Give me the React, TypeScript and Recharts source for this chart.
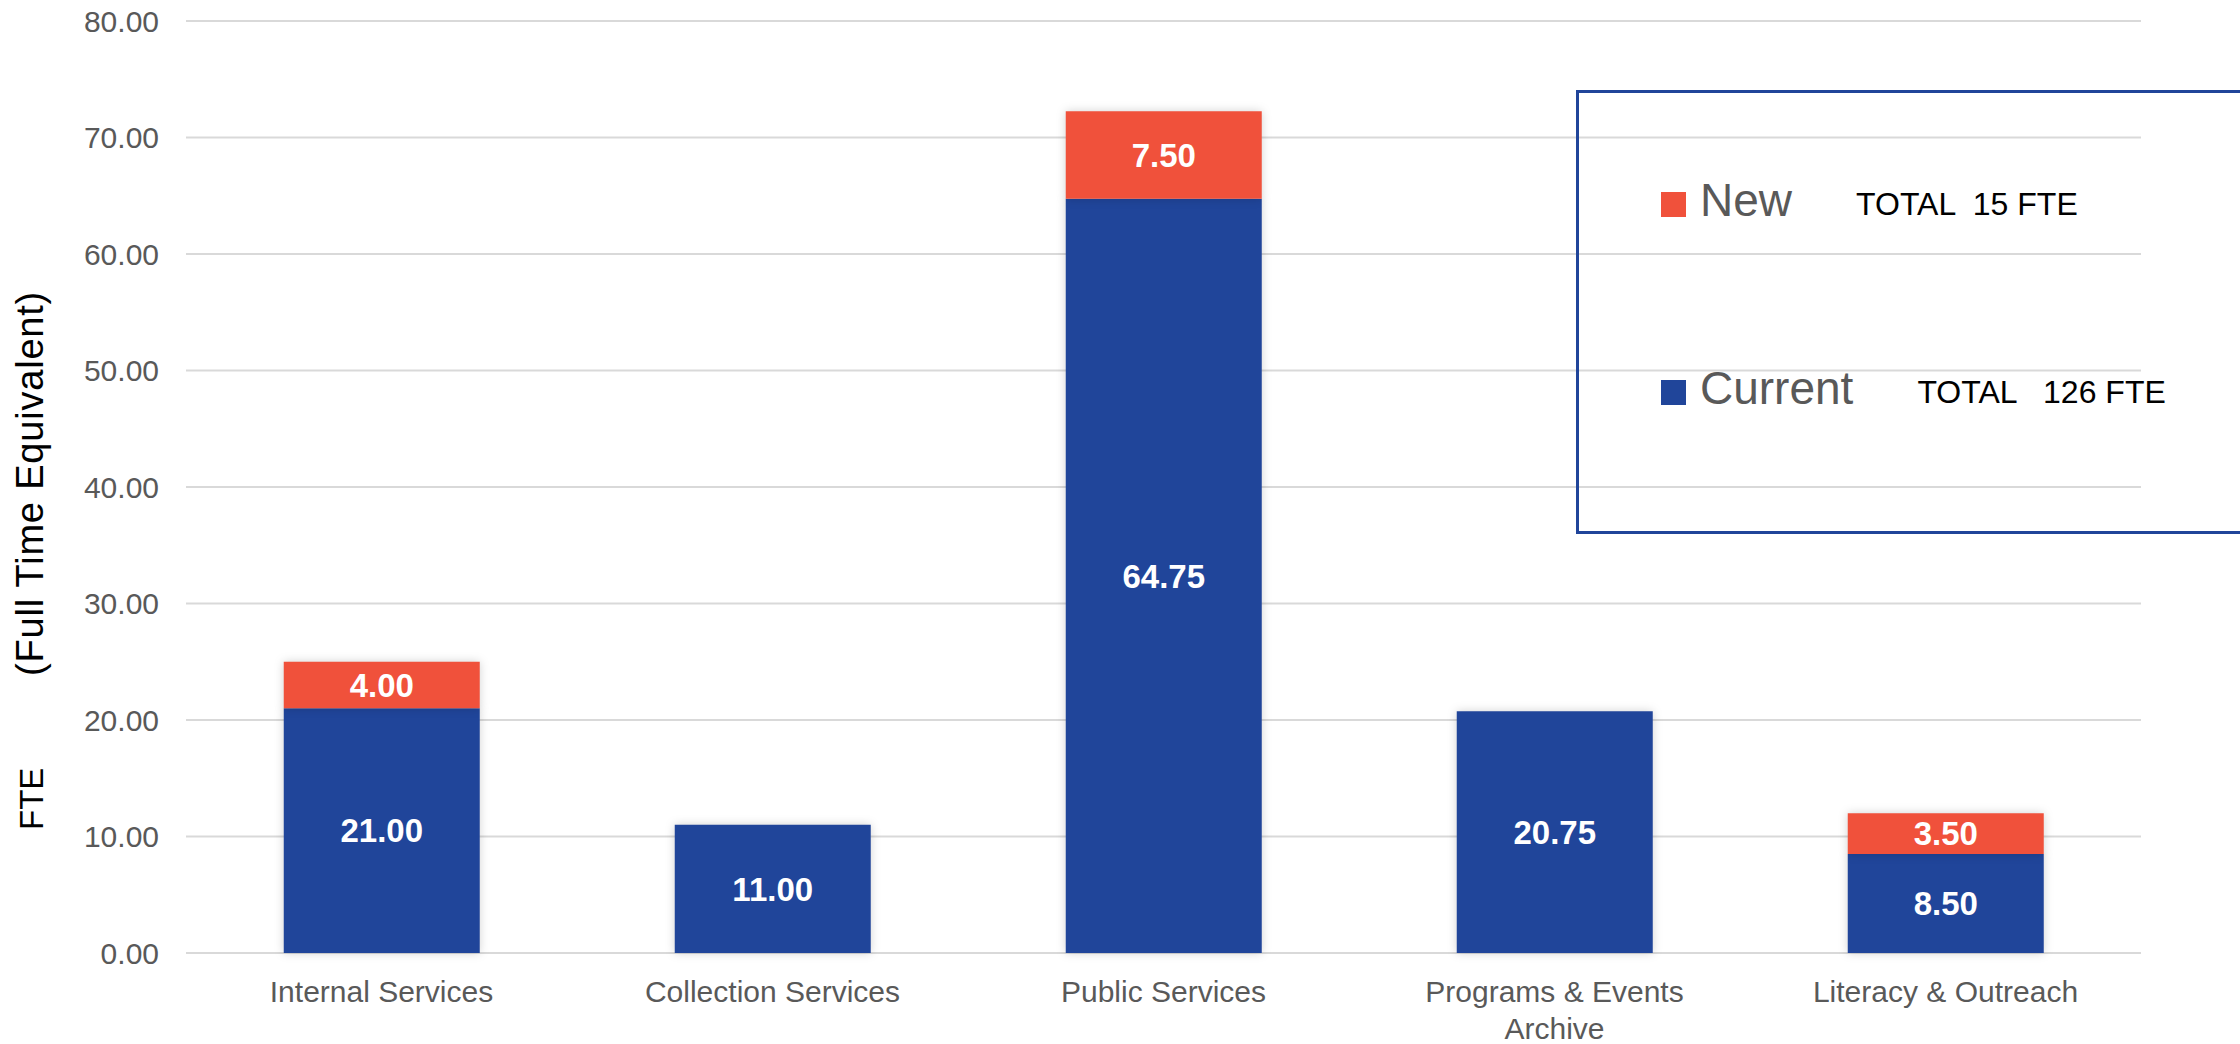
import { BarChart, Bar, XAxis, YAxis, CartesianGrid, Legend, LabelList } from 'recharts'

const categories = ['Internal Services', 'Collection Services', 'Public Services', 'Programs & Events Archive', 'Literacy & Outreach']
const currentFte = [21, 11, 64.75, 20.75, 8.5]
const newFte = [4, 0, 7.5, 0, 3.5]
const yTicks = [0, 10, 20, 30, 40, 50, 60, 70, 80]

const BLUE = '#20459a'
const RED = '#f0513b'
const FONT = '"Liberation Sans", Arial, sans-serif'

const data = categories.map((name, i) => ({ name, current: currentFte[i], added: newFte[i] }))
const sum = (arr: number[]) => arr.reduce((a, b) => a + b, 0)
const totals: Record<string, number> = { current: sum(currentFte), added: sum(newFte) }

function wrap(label: string, max = 20) {
  const lines: string[] = []
  let cur = ''
  for (const w of label.split(' ')) {
    const next = cur ? cur + ' ' + w : w
    if (next.length > max && cur) {
      lines.push(cur)
      cur = w
    } else cur = next
  }
  if (cur) lines.push(cur)
  return lines
}

function CategoryTick({ x, y, payload }: any) {
  const lines = wrap(payload.value)
  return (
    <text x={x} y={y} textAnchor="middle" fill="#595959" fontSize={30} fontFamily={FONT}>
      {lines.map((l, i) => (
        <tspan key={i} x={x} dy={i === 0 ? '0.71em' : 37}>{l}</tspan>
      ))}
    </text>
  )
}

function AxisTitle({ viewBox }: any) {
  const x = viewBox.x + 43
  const bottom = viewBox.y + viewBox.height
  return (
    <g fontFamily={FONT} fill="#000">
      <text x={x} y={bottom - 123} fontSize={33} transform={`rotate(-90 ${x} ${bottom - 123})`}>FTE</text>
      <text x={x} y={bottom - 277} fontSize={38} letterSpacing={0.8} transform={`rotate(-90 ${x} ${bottom - 277})`}>(Full Time Equivalent)</text>
    </g>
  )
}

function LegendBox({ payload }: any) {
  const items = [...(payload || [])].reverse()
  return (
    <div style={{ boxSizing: 'border-box', width: '100%', height: '100%', border: `3px solid ${BLUE}`, paddingTop: 77, paddingLeft: 82, fontFamily: FONT }}>
      {items.map((it: any, i: number) => (
        <div key={it.value} style={{ display: 'flex', alignItems: 'center', height: 60, marginTop: i === 0 ? 0 : 128 }}>
          <div style={{ width: 25, height: 25, background: it.color, marginRight: 14, marginTop: 8 }} />
          <span style={{ fontSize: 46, color: '#595959' }}>{it.value}</span>
          <span style={{ fontSize: 32, color: '#000', marginLeft: 64, marginTop: 8, whiteSpace: 'pre' }}>
            {`TOTAL  ${it.dataKey === 'current' ? ' ' : ''}${totals[it.dataKey]} FTE`}
          </span>
        </div>
      ))}
    </div>
  )
}

const fmt = (v: any) => (v ? Number(v).toFixed(2) : '')

export default function App() {
  return (
    <div style={{ width: 2240, height: 1044, overflow: 'hidden', position: 'relative' }}>
      <style>{`body{margin:0} .recharts-bar-rectangle path{filter:drop-shadow(0 0 5px rgba(0,0,0,0.18))}`}</style>
      <BarChart width={2240} height={1044} data={data} margin={{ top: 21, right: 99, bottom: 0, left: 0 }} barCategoryGap="25%">
        <CartesianGrid vertical={false} stroke="#d9d9d9" strokeWidth={2} />
        <XAxis dataKey="name" height={91} axisLine={false} tickLine={false} tickSize={0} tickMargin={28} interval={0} tick={<CategoryTick />} />
        <YAxis
          width={186}
          domain={[0, 80]}
          ticks={yTicks}
          axisLine={false}
          tickLine={false}
          tickSize={0}
          tickMargin={27}
          tickFormatter={(v: number) => v.toFixed(2)}
          tick={{ fill: '#595959', fontSize: 30, fontFamily: FONT }}
          label={{ content: <AxisTitle /> }}
        />
        <Legend
          layout="vertical"
          align="center"
          verticalAlign="middle"
          wrapperStyle={{ left: 1576, top: 90, width: 700, height: 444 }}
          content={<LegendBox />}
        />
        <Bar dataKey="current" name="Current" stackId="a" fill={BLUE} isAnimationActive={false}>
          <LabelList dataKey="current" position="center" formatter={fmt} fill="#fff" fontSize={33} fontWeight="bold" fontFamily={FONT} />
        </Bar>
        <Bar dataKey="added" name="New" stackId="a" fill={RED} isAnimationActive={false}>
          <LabelList dataKey="added" position="center" formatter={fmt} fill="#fff" fontSize={33} fontWeight="bold" fontFamily={FONT} />
        </Bar>
      </BarChart>
    </div>
  )
}
